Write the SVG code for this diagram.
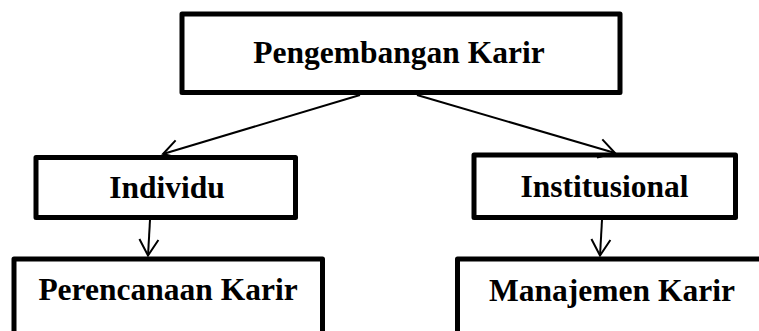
<svg xmlns="http://www.w3.org/2000/svg" width="759" height="331" viewBox="0 0 759 331">
<style>
.box{fill:#fff;stroke:#000;stroke-width:5;stroke-linejoin:round}
.lbl{font-family:"Liberation Serif","Times New Roman",serif;font-weight:bold;font-size:31.5px;fill:#000;text-anchor:middle}
.conn{stroke:#000;stroke-width:2;fill:none}
</style>
<defs>
<marker id="arr" viewBox="-18 -11 20 22" markerWidth="20" markerHeight="22" refX="0" refY="0" markerUnits="userSpaceOnUse" orient="auto">
<path d="M-16,-9.5 L0,0 L-16,9.5" fill="none" stroke="#000" stroke-width="2" stroke-linejoin="miter"/>
</marker>
</defs>
<rect width="759" height="331" fill="#fff"/>
<g id="node-pengembangan">
<rect class="box" x="182" y="14" width="438" height="78.5"/>
<text class="lbl" x="399" y="63">Pengembangan Karir</text>
</g>
<g id="node-individu">
<rect class="box" x="36" y="157.5" width="259.5" height="60"/>
<text class="lbl" x="167" y="198">Individu</text>
</g>
<g id="node-institusional">
<rect class="box" x="474" y="155" width="261.5" height="62.5"/>
<text class="lbl" x="604.5" y="197">Institusional</text>
</g>
<g id="node-perencanaan">
<rect class="box" x="14" y="259" width="308.5" height="90"/>
<text class="lbl" x="168" y="300">Perencanaan Karir</text>
</g>
<g id="node-manajemen">
<rect class="box" x="457.5" y="259" width="320" height="90"/>
<text class="lbl" x="612" y="301">Manajemen Karir</text>
</g>
<g id="connectors">
<line class="conn" x1="360" y1="95" x2="163" y2="154" marker-end="url(#arr)"/>
<line class="conn" x1="417" y1="95" x2="615" y2="153" marker-end="url(#arr)"/>
<line class="conn" x1="150" y1="220" x2="148" y2="255.5" marker-end="url(#arr)"/>
<line class="conn" x1="602" y1="220" x2="600" y2="255.5" marker-end="url(#arr)"/>
</g>
</svg>
